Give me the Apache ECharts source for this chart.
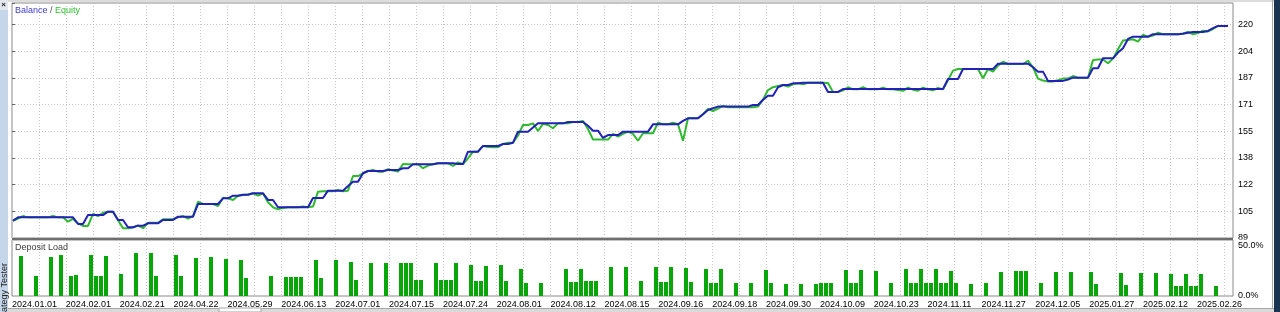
<!DOCTYPE html>
<html><head><meta charset="utf-8">
<script src="https://cdn.jsdelivr.net/npm/echarts@6/dist/echarts.min.js"></script>
<style>html,body{margin:0;padding:0;background:#fff;overflow:hidden}#c{width:1280px;height:312px}</style>
</head><body><div id="c"></div>
<script>
// ---- data ----
const xLabels = ['2024.01.01','2024.02.01','2024.02.21','2024.04.22','2024.05.29','2024.06.13','2024.07.01','2024.07.15','2024.07.24','2024.08.01','2024.08.12','2024.08.15','2024.09.16','2024.09.18','2024.09.30','2024.10.09','2024.10.23','2024.11.11','2024.11.27','2024.12.05','2025.01.27','2025.02.12','2025.02.26'];
const yLabels = ['89','105','122','138','155','171','187','204','220'];
const loadLabels = ['0.0%','50.0%'];

const balance = [
99.6,101.7,101.7,101.7,101.7,101.7,101.7,101.7,101.7,101.7,
101.7,101.7,101.7,97.6,97.6,103.1,103.1,103.1,103.1,105.2,
105.2,100.1,100.1,95.6,95.6,96.6,96.6,98.0,98.0,98.0,
100.1,100.1,100.1,102.1,102.1,102.1,102.1,109.9,109.9,109.9,
109.9,109.9,113.4,113.4,115.0,115.0,115.6,115.6,116.5,116.5,
116.5,112.4,112.4,107.9,107.9,107.9,107.9,107.9,107.9,107.9,
113.6,113.6,113.6,118.1,118.1,118.1,118.1,121.0,123.6,123.6,
128.8,130.2,130.2,130.2,130.2,130.8,130.8,130.8,131.9,131.9,
134.3,134.3,134.3,134.3,134.3,135.0,135.0,135.0,135.0,134.5,
134.5,142.1,142.1,142.1,145.6,145.6,145.6,145.6,146.8,146.8,
147.6,154.4,154.4,154.4,157.0,159.5,159.5,159.5,159.5,159.5,
159.5,160.3,160.3,160.3,160.3,158.0,155.0,155.0,150.5,152.3,
152.3,152.3,154.4,154.4,154.4,154.4,154.4,154.4,158.9,158.9,
158.9,158.9,158.9,158.9,161.0,162.6,162.6,162.6,165.1,167.7,
168.8,169.8,169.8,169.8,169.8,169.8,169.8,169.8,170.8,170.8,
174.0,176.5,176.5,181.7,183.1,183.1,184.1,184.1,184.5,184.5,
184.5,184.5,184.5,178.8,178.8,178.8,180.6,180.6,180.6,180.6,
180.6,180.6,180.6,180.6,180.6,180.6,180.6,180.6,180.6,180.6,
180.6,180.6,180.6,180.6,180.6,180.6,180.6,186.8,186.8,186.8,
192.9,192.9,192.9,192.9,192.9,192.9,192.9,196.2,196.2,196.2,
196.2,196.2,196.2,196.2,194.0,191.3,191.3,185.6,185.6,185.6,
185.6,186.5,187.6,187.6,187.6,187.6,193.4,193.4,199.5,199.5,
199.5,203.0,205.7,211.4,212.8,212.8,212.8,212.8,214.3,214.3,
214.3,214.3,214.3,214.3,214.6,215.2,215.7,215.7,215.7,216.3,
218.0,219.4,219.4,219.4
];

const equity = [
99.6,101.0,102.5,101.7,101.7,101.7,101.7,101.7,102.5,101.7,
101.7,99.0,100.7,98.0,96.4,96.4,103.8,102.5,104.5,105.2,
105.2,100.0,95.0,95.0,95.5,96.8,95.0,98.4,98.4,98.4,
100.5,100.5,100.5,101.7,102.5,101.0,102.5,111.3,109.9,109.9,
109.9,108.7,113.8,113.4,112.4,115.0,115.4,115.8,116.5,115.0,
116.5,111.0,107.9,106.6,107.5,107.9,107.9,107.9,108.3,107.9,
108.3,117.5,117.8,117.8,117.8,118.5,117.8,118.1,127.1,127.1,
128.8,130.2,130.8,129.8,129.8,131.3,130.5,129.8,134.5,134.4,
134.4,134.4,131.9,133.5,134.4,134.9,134.9,134.9,133.3,135.5,
134.5,138.0,142.1,142.1,145.6,145.0,144.8,144.8,146.8,147.6,
147.6,152.0,158.5,158.5,159.5,154.8,159.2,158.5,156.5,159.5,
159.5,159.5,160.3,160.3,161.0,156.0,149.6,149.6,149.6,149.5,
153.0,151.3,153.0,154.4,153.0,148.8,153.4,153.4,153.4,159.9,
158.9,158.9,159.9,158.9,148.8,162.6,162.6,162.6,165.1,168.3,
167.1,168.5,170.2,169.4,169.4,169.4,169.4,169.4,169.4,169.8,
174.0,180.0,181.7,182.5,183.1,182.1,183.5,184.1,183.5,184.5,
184.5,184.5,184.5,184.3,178.8,178.8,179.8,181.7,180.4,180.4,
181.7,180.4,180.4,180.4,181.5,180.4,180.4,180.0,179.5,181.5,
180.2,179.6,181.5,180.4,179.8,181.3,180.4,186.0,191.9,192.9,
192.9,192.9,192.9,192.9,187.2,192.9,191.3,195.0,197.4,196.0,
196.0,196.0,196.0,198.0,194.0,187.0,185.8,185.2,185.2,186.0,
187.0,187.0,188.6,187.6,187.6,187.6,198.5,198.8,198.8,196.4,
199.3,205.1,210.4,210.8,211.2,209.8,213.9,212.8,213.5,215.3,
214.3,214.3,214.3,214.3,214.8,215.7,214.3,215.0,216.5,216.0,
217.5,219.4,null,null
];

const loadTrade = [2,5,8,10,12,13,16,17,18,19,22,25,28,29,33,34,37,40,43,46,47,52,55,56,57,58,61,62,65,68,69,72,75,78,79,80,81,82,85,86,87,88,89,92,93,94,95,98,99,102,103,106,111,112,113,114,115,116,117,120,123,126,129,130,131,132,135,136,139,140,141,142,145,148,151,152,155,158,161,162,163,164,167,168,169,170,173,176,179,180,181,182,183,184,185,186,187,188,189,192,195,198,201,202,203,206,209,212,216,217,222,223,226,229,232,233,234,235,236,237,238,241];
const loadPct = [40,20,39,41,20,21,41,20,20,40,22,43,43,20,41,20,38,39,37,36,18,20,19,19,19,19,36,18,36,34,16,33,33,33,33,33,16,16,33,16,16,16,33,31,15,15,30,31,15,27,13,13,27,14,14,27,15,15,15,29,29,15,29,14,14,29,28,14,27,13,13,27,13,13,26,13,12,12,12,13,13,13,26,13,13,26,25,13,27,13,13,27,13,13,27,13,13,25,13,12,13,24,25,25,25,13,24,24,24,12,23,11,23,23,22,10,10,22,10,10,22,10];

// ---- chart ----
const FONT = '"Liberation Sans", Arial, sans-serif';
const balData = balance.map((v, i) => [i, v]);
const eqData = equity.map((v, i) => [i, v]).filter(p => p[1] != null);
const loadData = loadTrade.map((t, k) => [t, loadPct[k]]);
const gridLine = { show: true, lineStyle: { color: '#c6c6c6', width: 1, type: [1, 2] } };

const chart = echarts.init(document.getElementById('c'), null, { renderer: 'canvas' });
chart.setOption({
  animation: false,
  backgroundColor: '#ffffff',
  grid: [
    { left: 12, top: 3, width: 1221, height: 235, show: true, borderColor: '#8a8a8a', borderWidth: 1, backgroundColor: '#fff' },
    { left: 12, top: 240, width: 1221, height: 56, show: true, borderColor: '#8a8a8a', borderWidth: 1, backgroundColor: '#fff' }
  ],
  xAxis: [
    { gridIndex: 0, type: 'value', min: -0.2, max: 244.0, show: false },
    { gridIndex: 0, type: 'value', min: 0, max: 45.34, interval: 1,
      axisLine: { show: false }, axisTick: { show: false }, axisLabel: { show: false }, splitLine: gridLine },
    { gridIndex: 1, type: 'value', min: 0.2, max: 244.4, show: false },
    { gridIndex: 1, type: 'value', min: 0, max: 45.34, interval: 1, position: 'bottom',
      axisLine: { show: false }, axisTick: { show: false },
      axisLabel: { show: true, align: 'left', margin: 4, fontSize: 9, color: '#000', fontFamily: FONT,
        showMinLabel: true, showMaxLabel: true,
        formatter: v => { const r = Math.round(v); if (Math.abs(v - r) > 1e-6 || r % 2) return ''; return xLabels[r / 2] || ''; } },
      splitLine: gridLine }
  ],
  yAxis: [
    { gridIndex: 0, type: 'value', min: 89, max: 233.5, show: false },
    { gridIndex: 0, type: 'value', position: 'right', min: 0, max: 8.81, interval: 1,
      axisLine: { show: false }, axisTick: { show: true, length: 3, lineStyle: { color: '#666' } },
      axisLabel: { margin: 5, fontSize: 9, color: '#000', fontFamily: FONT, showMinLabel: true,
        formatter: v => { const r = Math.round(v); return Math.abs(v - r) < 1e-6 ? (yLabels[r] || '') : ''; } },
      splitLine: gridLine },
    { gridIndex: 1, type: 'value', position: 'right', min: 0, max: 56, interval: 50,
      axisLine: { show: false }, axisTick: { show: false },
      axisLabel: { margin: 5, fontSize: 9, color: '#000', fontFamily: FONT, showMinLabel: true,
        formatter: v => v === 0 ? loadLabels[0] : (v === 50 ? loadLabels[1] : '') },
      splitLine: { show: false } }
  ],
  series: [
    { name: 'Equity', type: 'line', xAxisIndex: 0, yAxisIndex: 0, data: eqData, showSymbol: false, symbol: 'none',
      lineStyle: { color: '#2fb92f', width: 2 }, z: 3 },
    { name: 'Balance', type: 'line', xAxisIndex: 0, yAxisIndex: 0, data: balData, showSymbol: false, symbol: 'none',
      lineStyle: { color: '#2222b8', width: 2 }, z: 4 },
    { name: 'Deposit Load', type: 'bar', xAxisIndex: 2, yAxisIndex: 2, data: loadData, barWidth: 4,
      itemStyle: { color: '#09a609' }, z: 3 }
  ],
  graphic: [
    // left panel strip
    { type: 'rect', z: 100, shape: { x: 0, y: 0, width: 8, height: 312 }, style: { fill: '#c5d6eb' } },
    { type: 'rect', z: 100, shape: { x: 0, y: 0, width: 8, height: 10 }, style: { fill: '#e3e8ef' } },
    { type: 'text', z: 101, x: 3.5, y: 4.5, style: { text: '×', font: 'bold 8px ' + FONT, fill: '#222', align: 'center', verticalAlign: 'middle' } },
    { type: 'text', z: 101, x: 0, y: 323.5, rotation: Math.PI / 2,
      style: { text: 'Strategy Tester', font: '9px ' + FONT, fill: '#222', align: 'left', verticalAlign: 'top' } },
    // top band
    { type: 'rect', z: 100, shape: { x: 8, y: 0, width: 1266, height: 2 }, style: { fill: '#dcdcdc' } },
    // pane separator (darker)
    { type: 'rect', z: 100, shape: { x: 12, y: 238, width: 1221, height: 2 }, style: { fill: '#6e6e6e' } },
    // right edge
    { type: 'rect', z: 100, shape: { x: 1272, y: 0, width: 1, height: 312 }, style: { fill: '#a8a8a8' } },
    { type: 'rect', z: 100, shape: { x: 1274, y: 0, width: 6, height: 312 }, style: { fill: '#1b3452' } },
    // bottom band with tab
    { type: 'rect', z: 100, shape: { x: 8, y: 308, width: 1266, height: 4 }, style: { fill: '#dadada' } },
    { type: 'rect', z: 100, shape: { x: 8, y: 308, width: 1266, height: 1 }, style: { fill: '#a5a5a5' } },
    { type: 'rect', z: 101, shape: { x: 219, y: 308, width: 42, height: 4 }, style: { fill: '#ffffff', stroke: '#a5a5a5', lineWidth: 1 } },
    // clip lower part of the "89" label
    { type: 'rect', z: 100, shape: { x: 1235, y: 239.6, width: 30, height: 2 }, style: { fill: '#ffffff' } },
    // pane captions
    { type: 'text', z: 101, x: 15, y: 10.5,
      style: { text: '{b|Balance} / {e|Equity}', font: '9px ' + FONT, fill: '#555', verticalAlign: 'middle',
        rich: { b: { fill: '#3c3cd2', font: '9px ' + FONT }, e: { fill: '#33c033', font: '9px ' + FONT } } } },
    { type: 'text', z: 101, x: 15, y: 247.5,
      style: { text: 'Deposit Load', font: '9px ' + FONT, fill: '#404040', verticalAlign: 'middle' } }
  ]
});
</script>
</body></html>
